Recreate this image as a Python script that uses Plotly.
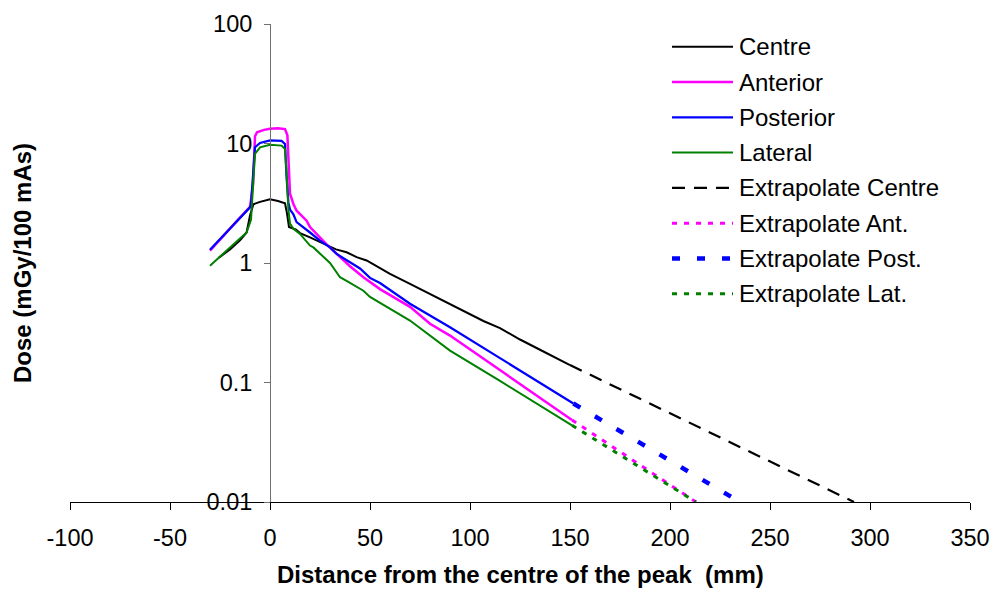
import plotly.graph_objects as go

# ---- measured dose profiles: distance from peak centre (mm) vs dose (mGy/100 mAs)
centre_x = [-25.5, -20, -15, -11.7, -10, -8.3, -5, 0, 4, 7.5, 8.5, 9.5, 13, 15, 20, 26.7,
            33, 38.3, 43.3, 48.3, 56.7, 60, 70, 80, 90, 100, 106.7, 115, 125, 135, 150]
centre_y = [1.11, 1.3, 1.55, 1.8, 2.5, 3.1, 3.25, 3.42, 3.3, 3.16, 2.6, 2.0, 1.9, 1.78, 1.64, 1.45,
            1.3, 1.23, 1.12, 1.05, 0.87, 0.81, 0.67, 0.553, 0.455, 0.373, 0.327, 0.285, 0.229, 0.188, 0.14]

anterior_x = [-30, -25, -20, -15, -10, -8.5, -7.5, -6.5, -3, 0, 4, 7.5, 8.7, 9.3, 10, 11.7,
              13.3, 18.3, 20, 28.3, 35, 40, 46.7, 50, 55, 70, 80, 90, 100, 115, 130, 140, 151]
anterior_y = [1.27, 1.58, 1.95, 2.4, 2.95, 4.5, 11.5, 12.4, 13.0, 13.3, 13.4, 13.2, 11.7, 6.0, 3.8, 3.12,
              2.74, 2.26, 2.0, 1.43, 1.13, 0.94, 0.76, 0.69, 0.605, 0.43, 0.31, 0.247, 0.189, 0.126, 0.085, 0.065, 0.0486]

posterior_x = [-30, -25, -20, -15, -10, -9.5, -8.5, -7.5, -5, 0, 5.8, 7.5, 8.3, 9.2, 10, 11.7,
               13.3, 15, 20, 25, 30, 33.3, 41.7, 45, 50, 55, 70, 90, 115, 130, 140, 151.7]
posterior_y = [1.29, 1.58, 1.94, 2.38, 2.92, 3.1, 6.0, 9.3, 10.1, 10.6, 10.5, 9.9, 5.2, 3.2, 2.8, 2.55,
               2.2, 2.1, 1.8, 1.54, 1.35, 1.19, 0.98, 0.9, 0.75, 0.68, 0.456, 0.29, 0.16, 0.112, 0.088, 0.0667]

lateral_x = [-30, -25, -20, -15, -11.7, -9.5, -8.5, -7.5, -5, 0, 5.8, 7.5, 8.3, 9.2, 10, 11.7,
             15, 20, 21.7, 30, 35, 38.3, 46.7, 50, 70, 90, 115, 130, 140, 151]
lateral_y = [0.95, 1.13, 1.35, 1.6, 1.8, 2.3, 4.5, 8.2, 9.3, 9.75, 9.6, 9.0, 5.6, 2.8, 2.14, 1.93,
             1.75, 1.40, 1.35, 1.0, 0.76, 0.71, 0.586, 0.52, 0.33, 0.185, 0.103, 0.072, 0.057, 0.0438]

# ---- exponential extrapolations of the tails
ext_centre_x = [150, 292]
ext_centre_y = [0.14, 0.01]
ext_ant_x = [151, 213]
ext_ant_y = [0.0486, 0.01]
ext_post_x = [151.7, 235]
ext_post_y = [0.0667, 0.01]
ext_lat_x = [151, 213]
ext_lat_y = [0.0438, 0.01]

series_names = ["Centre", "Anterior", "Posterior", "Lateral",
                "Extrapolate Centre", "Extrapolate Ant.", "Extrapolate Post.", "Extrapolate Lat."]

x_tick_vals = [-100, -50, 0, 50, 100, 150, 200, 250, 300, 350]
x_tick_text = ["-100", "-50", "0", "50", "100", "150", "200", "250", "300", "350"]
y_tick_vals = [0.01, 0.1, 1, 10, 100]
y_tick_text = ["0.01", "0.1", "1", "10", "100"]

x_title = "Distance from the centre of the peak\u00a0 (mm)"
y_title = "Dose (mGy/100 mAs)"

# ---- styling
FONT = "Arial, 'Liberation Sans', sans-serif"
styles = [
    dict(color="#000000", width=2, dash="solid"),
    dict(color="#FF00FF", width=2.5, dash="solid"),
    dict(color="#0000FF", width=2.25, dash="solid"),
    dict(color="#008000", width=2, dash="solid"),
    dict(color="#000000", width=2.2, dash="13px,9px"),
    dict(color="#FF00FF", width=3, dash="5px,7px"),
    dict(color="#0000FF", width=4.5, dash="8px,17px"),
    dict(color="#008000", width=3, dash="5px,7px"),
]

series = [
    (centre_x, centre_y), (anterior_x, anterior_y), (posterior_x, posterior_y), (lateral_x, lateral_y),
    (ext_centre_x, ext_centre_y), (ext_ant_x, ext_ant_y), (ext_post_x, ext_post_y), (ext_lat_x, ext_lat_y),
]

W, H = 994, 590
ML, MR, MT, MB = 70, 24, 24, 88
PW, PH = W - ML - MR, H - MT - MB


def paper_x(px):
    return (px - ML) / PW


def paper_y(py):
    return 1 - (py - MT) / PH


fig = go.Figure()
# extrapolations first so the measured curves sit on top
order = [4, 5, 6, 7, 0, 1, 2, 3]
for i in order:
    xs, ys = series[i]
    fig.add_trace(go.Scatter(x=xs, y=ys, mode="lines", name=series_names[i],
                             line=styles[i], showlegend=False, hoverinfo="x+y+name"))

# legend drawn as line samples plus labels
shapes = []
annotations = []
row0, row_step = 46.7, 35.3
for i, name in enumerate(series_names):
    yc = paper_y(row0 + row_step * i)
    st = styles[i]
    shapes.append(dict(type="line", xref="paper", yref="paper",
                       x0=paper_x(672), x1=paper_x(733), y0=yc, y1=yc,
                       line=dict(color=st["color"], width=st["width"], dash=st["dash"])))
    annotations.append(dict(xref="paper", yref="paper", x=paper_x(737), y=yc,
                            xanchor="left", yanchor="middle", showarrow=False,
                            text=name, font=dict(family=FONT, size=24, color="#000000")))

# axis titles
annotations.append(dict(xref="paper", yref="paper", x=0.5, y=paper_y(590),
                        xanchor="center", yanchor="bottom", showarrow=False, text=x_title,
                        font=dict(family=FONT, size=24, color="#000000", weight="bold")))
annotations.append(dict(xref="paper", yref="paper", x=paper_x(22), y=0.5, textangle=-90,
                        xanchor="center", yanchor="middle", showarrow=False, text=y_title,
                        font=dict(family=FONT, size=24, color="#000000", weight="bold")))

fig.update_layout(
    width=W, height=H,
    margin=dict(l=ML, r=MR, t=MT, b=MB, autoexpand=False),
    paper_bgcolor="white", plot_bgcolor="white",
    font=dict(family=FONT, size=23.5, color="#000000"),
    showlegend=False,
    shapes=shapes,
    annotations=annotations,
    xaxis=dict(range=[-100, 350], tickvals=x_tick_vals, ticktext=x_tick_text,
               showgrid=False, zeroline=False, automargin=False,
               showline=True, linecolor="#000000", linewidth=1,
               ticks="outside", ticklen=7, tickcolor="#000000", tickwidth=1,
               ticklabelstandoff=8, tickfont=dict(size=23.5)),
    yaxis=dict(type="log", range=[-2, 2], tickvals=y_tick_vals, ticktext=y_tick_text,
               showgrid=False, zeroline=False, anchor="free", position=paper_x(270),
               automargin=False,
               showline=True, linecolor="#707070", linewidth=1,
               ticks="outside", ticklen=6, tickcolor="#707070", tickwidth=1,
               ticklabelstandoff=7, tickfont=dict(size=23.5)),
)

fig.write_html("out.html")
